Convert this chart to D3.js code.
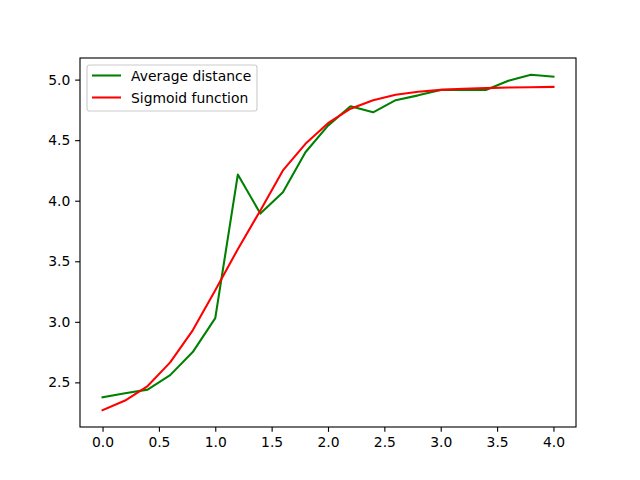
<!DOCTYPE html>
<html lang="en">
<head>
<meta charset="UTF-8">
<script src="https://d3js.org/d3.v7.min.js"></script>
<style>
    body { margin: 0; background: #fff; }
    svg { display: block; }
    text { font-family: 'DejaVu Sans', sans-serif; }
</style>
</head>
<body>
<svg id="canvas"></svg>
<script>
let xValues = [0.0, 0.2, 0.4, 0.6, 0.8, 1.0, 1.2, 1.4, 1.6, 1.8, 2.0, 2.2, 2.4, 2.6, 2.8, 3.0, 3.2, 3.4, 3.6, 3.8, 4.0]
let averageDistance = [2.376, 2.41, 2.44, 2.56, 2.75, 3.03, 4.216, 3.894, 4.07, 4.40, 4.62, 4.78, 4.73, 4.83, 4.87, 4.915, 4.915, 4.915, 4.99, 5.04, 5.025]
let sigmoidValues = [2.27, 2.35, 2.47, 2.665, 2.93, 3.26, 3.60, 3.92, 4.25, 4.47, 4.64, 4.76, 4.83, 4.875, 4.90, 4.915, 4.925, 4.93, 4.935, 4.937, 4.94]
let xTicks = [0.0, 0.5, 1.0, 1.5, 2.0, 2.5, 3.0, 3.5, 4.0]
let yTicks = [2.5, 3.0, 3.5, 4.0, 4.5, 5.0]
let seriesNames = ['Average distance', 'Sigmoid function']
let seriesColors = ['green', 'red']

let width = 640
let height = 480
let plotLeft = 80, plotRight = 576, plotTop = 58, plotBottom = 427

let svg = d3.select('#canvas').attr('width', width).attr('height', height)

// matplotlib-style 5% margins
let xMin = d3.min(xValues), xMax = d3.max(xValues)
let xPad = (xMax - xMin) * 0.05
let allY = averageDistance.concat(sigmoidValues)
let yMin = d3.min(allY), yMax = d3.max(allY)
let yPad = (yMax - yMin) * 0.05

let xScale = d3.scaleLinear().domain([xMin - xPad, xMax + xPad]).range([plotLeft, plotRight])
let yScale = d3.scaleLinear().domain([yMin - yPad, yMax + yPad]).range([plotBottom, plotTop])

let series = [averageDistance, sigmoidValues]

let line = d3.line()
    .x((d, i) => xScale(xValues[i]))
    .y(d => yScale(d))

let plot = svg.append('g')
series.forEach((values, i) => {
    plot.append('path')
        .datum(values)
        .attr('d', line)
        .attr('fill', 'none')
        .attr('stroke', seriesColors[i])
        .attr('stroke-width', 2.08)
        .attr('stroke-linejoin', 'round')
        .attr('stroke-linecap', 'square')
})

// axes
let xAxis = d3.axisBottom(xScale).tickValues(xTicks).tickFormat(d3.format('.1f'))
    .tickSizeInner(4.86).tickSizeOuter(0).tickPadding(4.86)
let yAxis = d3.axisLeft(yScale).tickValues(yTicks).tickFormat(d3.format('.1f'))
    .tickSizeInner(4.86).tickSizeOuter(0).tickPadding(4.86)

let gx = svg.append('g').attr('transform', 'translate(0,' + plotBottom + ')').call(xAxis)
let gy = svg.append('g').attr('transform', 'translate(' + plotLeft + ',0)').call(yAxis)

;[gx, gy].forEach(g => {
    g.select('.domain').remove()
    g.selectAll('.tick line').attr('stroke', '#000').attr('stroke-width', 1.11)
    g.selectAll('.tick text').attr('fill', '#000')
        .style('font-family', "'DejaVu Sans', sans-serif").style('font-size', '13.89px')
})

// frame
svg.append('rect')
    .attr('x', plotLeft).attr('y', plotTop)
    .attr('width', plotRight - plotLeft).attr('height', plotBottom - plotTop)
    .attr('fill', 'none').attr('stroke', '#000').attr('stroke-width', 1.11)

// legend
let legend = svg.append('g').attr('transform', 'translate(87,65)')
legend.append('rect')
    .attr('width', 170).attr('height', 46)
    .attr('rx', 2.5).attr('ry', 2.5)
    .attr('fill', 'white').attr('fill-opacity', 0.8)
    .attr('stroke', '#cccccc').attr('stroke-width', 1.11)

seriesNames.forEach((name, i) => {
    let yy = 10.5 + i * 22
    legend.append('line')
        .attr('x1', 5).attr('x2', 34).attr('y1', yy).attr('y2', yy)
        .attr('stroke', seriesColors[i]).attr('stroke-width', 2.08)
    legend.append('text')
        .attr('x', 44).attr('y', yy + 5)
        .style('font-size', '13.89px')
        .attr('fill', '#000')
        .text(name)
})
</script>
</body>
</html>
